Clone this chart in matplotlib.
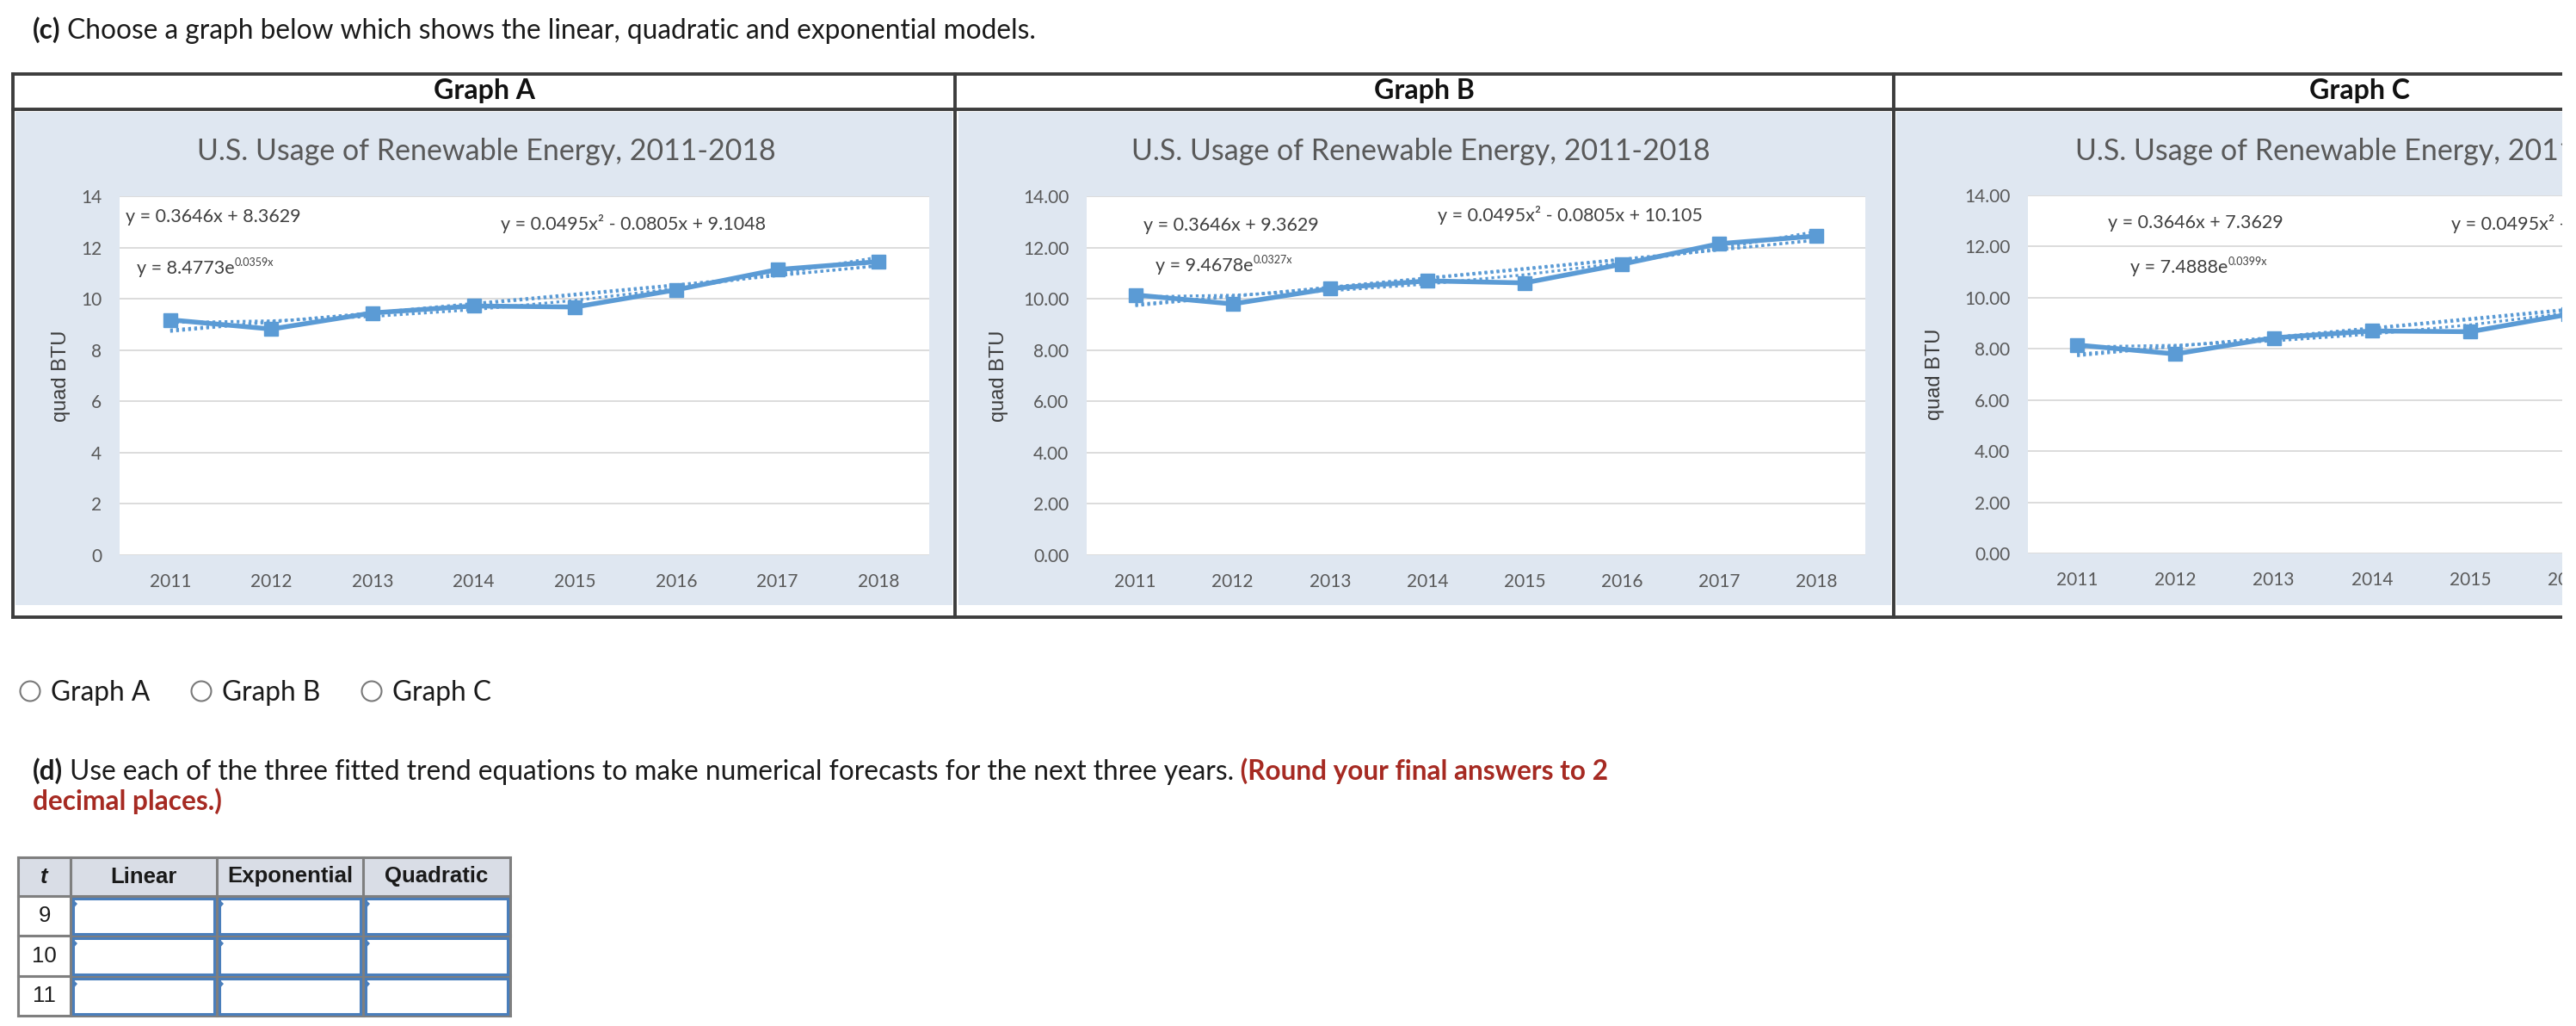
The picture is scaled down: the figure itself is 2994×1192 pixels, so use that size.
import numpy as np
import matplotlib
matplotlib.use('Agg')
import matplotlib.pyplot as plt
from matplotlib.lines import Line2D
from matplotlib.patches import Rectangle, Ellipse, Polygon

plt.rcParams['font.family'] = ['Lato', 'DejaVu Sans']

W, H = 2994, 1192

# data
years = ['2011', '2012', '2013', '2014', '2015', '2016', '2017', '2018']
usage_a = [9.18, 8.82, 9.45, 9.72, 9.68, 10.35, 11.14, 11.45]
usage_b = [10.15, 9.80, 10.40, 10.70, 10.62, 11.35, 12.15, 12.45]
usage_c = [8.15, 7.80, 8.43, 8.70, 8.67, 9.35, 10.14, 10.45]

# trend equations printed on each chart
lin_a, exp_a, quad_a = (0.3646, 8.3629), (8.4773, 0.0359), (0.0495, -0.0805, 9.1048)
lin_b, exp_b, quad_b = (0.3646, 9.3629), (9.4678, 0.0327), (0.0495, -0.0805, 10.105)
lin_c, exp_c, quad_c = (0.3646, 7.3629), (7.4888, 0.0399), (0.0495, -0.0805, 8.1048)

eq_a = ['y = 0.3646x + 8.3629', 'y = 0.0495x\u00b2 - 0.0805x + 9.1048', ('y = 8.4773e', '0.0359x')]
eq_b = ['y = 0.3646x + 9.3629', 'y = 0.0495x\u00b2 - 0.0805x + 10.105', ('y = 9.4678e', '0.0327x')]
eq_c = ['y = 0.3646x + 7.3629', 'y = 0.0495x\u00b2 - 0.0805x + 8.1048', ('y = 7.4888e', '0.0399x')]

graph_names = ['Graph A', 'Graph B', 'Graph C']
table_cols = ['Linear', 'Exponential', 'Quadratic']
forecast_t = ['9', '10', '11']

BLUE = '#5b9bd5'
GRAY_TXT = '#595959'
RED = '#a62a22'
PAGE_FS = 22.8

fig = plt.figure(figsize=(W / 100, H / 100), dpi=100)
renderer = fig.canvas.get_renderer()


def hline(x0, x1, y, **kw):
    fig.add_artist(Line2D([x0 / W, x1 / W], [1 - y / H, 1 - y / H], transform=fig.transFigure, **kw))


def vline(x, y0, y1, **kw):
    fig.add_artist(Line2D([x / W, x / W], [1 - y0 / H, 1 - y1 / H], transform=fig.transFigure, **kw))


def rect(x0, y0, x1, y1, **kw):
    fig.add_artist(Rectangle((x0 / W, 1 - y1 / H), (x1 - x0) / W, (y1 - y0) / H,
                             transform=fig.transFigure, **kw))


def runs(x, y, parts, **common):
    # consecutive text pieces on one baseline, pixel coords
    cur = x
    for s, kw in parts:
        opts = dict(common)
        opts.update(kw)
        dy = opts.pop('dy', 0)
        t = fig.text(cur / W, 1 - (y - dy) / H, s, ha='left', va='baseline', **opts)
        cur += t.get_window_extent(renderer=renderer).width
    return cur


# ---- part (c) text ----
runs(38, 45, [('(c)', dict(weight='bold')),
              (' Choose a graph below which shows the linear, quadratic and exponential models.', {})],
     fontsize=PAGE_FS, color='#1a1a1a')

# ---- chart table frame ----
col_edges = [15, 1110, 2201]
header_cx = [563, 1655, 2742]
chart_bg = [(18, 1107), (1114, 2198), (2204, 3300)]
for (a, b) in chart_bg:
    rect(a, 130, b, 703, facecolor='#dfe7f1', edgecolor='none', zorder=-1)
for name, cx in zip(graph_names, header_cx):
    fig.text(cx / W, 1 - 105 / H, name, ha='center', va='center', fontsize=23, weight='bold', color='#111111')

border = dict(color='#3d3d3d', lw=2.8, zorder=5)
for y in (86, 127, 717):
    hline(15, 2994, y, **border)
for x in col_edges:
    vline(x, 86, 717, **border)


def chart(box, vals, lin, expo, quad, fmt, title_x, ylab_x, eqs, eq_pos):
    x0, y0, x1, y1 = box
    ax = fig.add_axes([x0 / W, 1 - y1 / H, (x1 - x0) / W, (y1 - y0) / H])
    ax.set_facecolor('white')
    pos = np.arange(len(years))
    t = pos + 1
    dot = (0, (1, 1.2))
    ax.plot(pos, lin[0] * t + lin[1], color=BLUE, lw=2.3, ls=dot, zorder=3)
    ax.plot(pos, expo[0] * np.exp(expo[1] * t), color=BLUE, lw=2.3, ls=dot, zorder=3)
    ax.plot(pos, quad[0] * t ** 2 + quad[1] * t + quad[2], color=BLUE, lw=2.3, ls=dot, zorder=3)
    ax.plot(pos, vals, color=BLUE, lw=4, marker='s', ms=11.5, zorder=4)
    ax.set_xlim(-0.5, len(years) - 0.5)
    ax.set_ylim(0, 14)
    ax.set_xticks(pos)
    ax.set_xticklabels(years)
    yt = np.arange(0, 15, 2)
    ax.set_yticks(yt)
    ax.set_yticklabels([fmt.format(v) for v in yt])
    ax.tick_params(length=0, labelsize=15, labelcolor=GRAY_TXT)
    ax.tick_params(axis='y', pad=15)
    ax.tick_params(axis='x', pad=15)
    ax.yaxis.grid(True, color='#d9d9d9', lw=1.3)
    ax.set_axisbelow(True)
    for s in ax.spines.values():
        s.set_visible(False)

    fig.text(title_x / W, 1 - 176 / H, 'U.S. Usage of Renewable Energy, 2011-2018',
             ha='center', va='center', fontsize=24.5, color=GRAY_TXT)
    fig.text(ylab_x / W, 1 - (y0 + y1) / 2 / H, 'quad BTU', rotation=90, ha='center', va='center',
             fontsize=17, color='#3a3a3a', family=['Liberation Sans', 'DejaVu Sans'])

    eq_style = dict(fontsize=15.5, color='#404040')
    (lx, ly), (qx, qy), (ex, ey) = eq_pos
    runs(lx, ly + 5, [(eqs[0], {})], **eq_style)
    runs(qx, qy + 5, [(eqs[1], {})], **eq_style)
    runs(ex, ey + 5, [(eqs[2][0], {}), (eqs[2][1], dict(fontsize=9, dy=9))], **eq_style)
    return ax


chart((139, 228, 1080, 645), usage_a, lin_a, exp_a, quad_a, '{:d}', 565, 71, eq_a,
      [(146, 253), (582, 262), (159, 313)])
chart((1263, 228, 2168, 645), usage_b, lin_b, exp_b, quad_b, '{:.2f}', 1651, 1161, eq_b,
      [(1329, 263), (1671, 252), (1343, 310)])
chart((2357, 227, 3271, 643), usage_c, lin_c, exp_c, quad_c, '{:.2f}', 2748, 2249, eq_c,
      [(2450, 260), (2849, 262), (2476, 312)])

# page edge cuts the third chart
rect(2978, 0, 2994, 760, facecolor='white', edgecolor='none', zorder=10)

# ---- radio choices ----
radio_x = [35, 234, 432]
for name, cx in zip(graph_names, radio_x):
    fig.add_artist(Ellipse((cx / W, 1 - 803 / H), 23 / W, 23 / H, transform=fig.transFigure,
                           facecolor='white', edgecolor='#7a7a7a', lw=1.5))
    fig.text((cx + 24) / W, 1 - 814 / H, name, ha='left', va='baseline', fontsize=PAGE_FS, color='#1a1a1a')

# ---- part (d) text ----
runs(38, 906, [('(d)', dict(weight='bold')),
               (' Use each of the three fitted trend equations to make numerical forecasts for the next three years.', {}),
               (' (Round your final answers to 2', dict(weight='bold', color=RED))],
     fontsize=PAGE_FS, color='#1a1a1a')
runs(38, 941, [('decimal places.)', dict(weight='bold', color=RED))], fontsize=PAGE_FS)

# ---- forecast table ----
tx = [21, 82, 252, 422, 593]
ty = [996, 1041, 1087, 1134, 1180]
arial = ['Liberation Sans', 'DejaVu Sans']
rect(tx[0], ty[0], tx[-1], ty[1], facecolor='#d9dde6', edgecolor='none', zorder=1)
rect(tx[0], ty[1], tx[-1], ty[-1], facecolor='white', edgecolor='none', zorder=1)
fig.text((tx[0] + tx[1]) / 2 / W, 1 - (ty[0] + ty[1]) / 2 / H, 't', ha='center', va='center',
         fontsize=18.5, weight='bold', style='italic', family=arial, color='#1a1a1a')
for i, c in enumerate(table_cols):
    fig.text((tx[i + 1] + tx[i + 2]) / 2 / W, 1 - (ty[0] + ty[1]) / 2 / H, c, ha='center', va='center',
             fontsize=18.5, weight='bold', family=arial, color='#1a1a1a')
for r, lab in enumerate(forecast_t):
    ya, yb = ty[r + 1], ty[r + 2]
    fig.text((tx[0] + tx[1]) / 2 / W, 1 - (ya + yb) / 2 / H, lab, ha='center', va='center',
             fontsize=18.5, family=arial, color='#1a1a1a')
    for c in range(3):
        xa, xb = tx[c + 1], tx[c + 2]
        rect(xa + 3, ya + 3, xb - 3, yb - 2, facecolor='white', edgecolor='#4a7ebb', lw=2.2, zorder=3)
        fig.add_artist(Polygon([((xa + 2) / W, 1 - (ya + 3) / H), ((xa + 2) / W, 1 - (ya + 16) / H),
                                ((xa + 8) / W, 1 - (ya + 9) / H)], closed=True, transform=fig.transFigure,
                               facecolor='#4a7ebb', edgecolor='none', zorder=4))
tgrid = dict(color='#7f7f7f', lw=2.2, zorder=2)
for y in ty:
    hline(tx[0], tx[-1], y, **tgrid)
for x in tx:
    vline(x, ty[0], ty[-1], **tgrid)

fig.savefig('out.png', dpi=100, facecolor='white')
